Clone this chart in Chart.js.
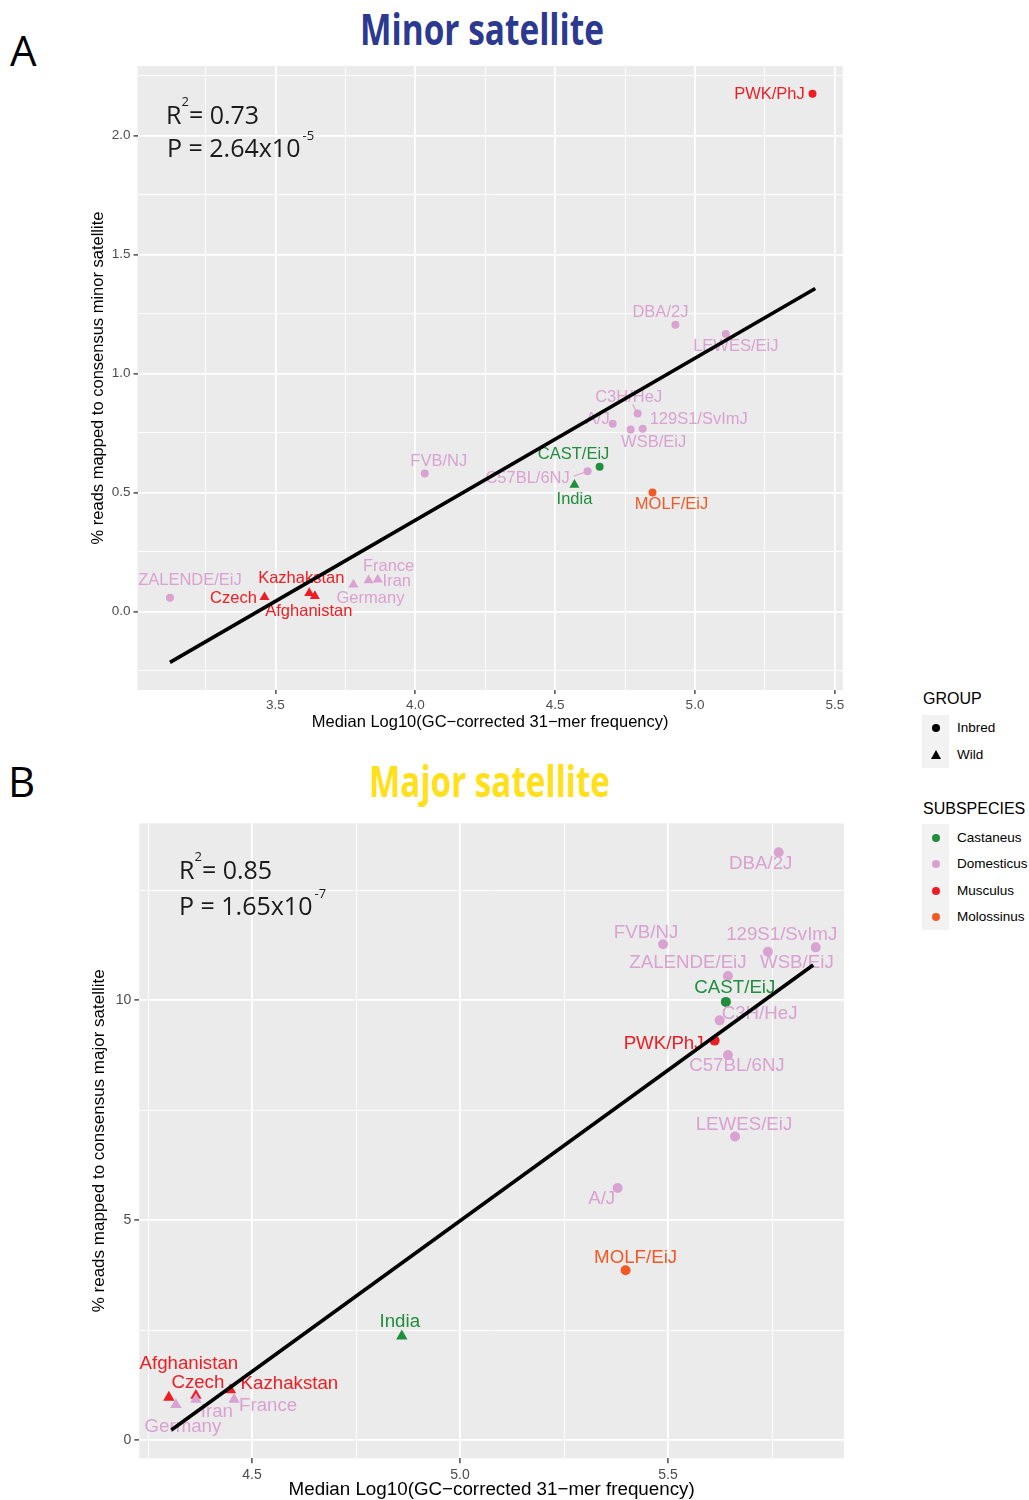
<!DOCTYPE html>
<html>
<head>
<meta charset="utf-8">
<title>Minor / Major satellite</title>
<script src="https://cdn.jsdelivr.net/npm/chart.js@4.4.0/dist/chart.umd.min.js"></script>
<style>
  body { margin: 0; background: #fff; width: 1029px; height: 1500px; position: relative; overflow: hidden;
         font-family: "Liberation Sans", Arial, sans-serif; }
  canvas { position: absolute; left: 0; }
  #chartA { top: 0; }
  #chartB { top: 760px; }
  .letter { position: absolute; font-family: "Open Sans", sans-serif; font-size: 42px; line-height: 1; color: #000; }
  .title { position: absolute; font-family: "Open Sans", sans-serif; font-weight: 700; font-size: 43px; line-height: 1;
           white-space: nowrap; transform-origin: left center; }
  .stat { position: absolute; font-family: "Open Sans", sans-serif; font-size: 25px; line-height: 1; color: #1a1a1a; white-space: nowrap; }
  .stat .sq { font-size: 13px; vertical-align: 18px; }
  .stat .ex { font-size: 13px; vertical-align: 17px; margin-left: 2px; }
  .lg-title { position: absolute; left: 923px; font-size: 16px; line-height: 1; color: #000; }
  .lg-box { position: absolute; left: 922px; width: 27px; background: #F2F2F2; }
  .lg-row { position: absolute; left: 957px; height: 26px; line-height: 26px; font-size: 13.5px; color: #000; white-space: nowrap; }
  .lg-dot { position: absolute; left: 932px; width: 8px; height: 8px; border-radius: 50%; }
  .lg-tri { position: absolute; left: 931px; width: 0; height: 0; border-left: 5px solid transparent;
            border-right: 5px solid transparent; border-bottom: 9px solid #000; }
</style>
</head>
<body>
<div class="letter" style="left:10px; top:29px;">A</div>
<div class="letter" style="left:8px; top:760px;">B</div>
<div class="title" id="titleA" style="top:7px; color:#2B3990;">Minor satellite</div>
<div class="title" id="titleB" style="top:759px; color:#FFE01A;">Major satellite</div>

<canvas id="chartA" width="860" height="740"></canvas>
<canvas id="chartB" width="860" height="740"></canvas>

<div class="stat" style="left:166px; top:95px;">R<span class="sq">2</span>= 0.73</div>
<div class="stat" style="left:167px; top:129px;">P = 2.64x10<span class="ex">-5</span></div>
<div class="stat" style="left:179px; top:850px;">R<span class="sq">2</span>= 0.85</div>
<div class="stat" style="left:179px; top:887px;">P = 1.65x10<span class="ex">-7</span></div>

<div id="legend"></div>

<script>
// ---- data ----
const strains = ['PWK/PhJ', 'DBA/2J', 'LEWES/EiJ', 'C3H/HeJ', 'A/J', '129S1/SvImJ', 'WSB/EiJ', 'FVB/NJ',
                 'CAST/EiJ', 'C57BL/6NJ', 'MOLF/EiJ', 'ZALENDE/EiJ', 'India', 'Czech', 'Kazhakstan',
                 'Afghanistan', 'Germany', 'France', 'Iran'];
const subspecies = ['Musculus', 'Domesticus', 'Domesticus', 'Domesticus', 'Domesticus', 'Domesticus', 'Domesticus',
                    'Domesticus', 'Castaneus', 'Domesticus', 'Molossinus', 'Domesticus', 'Castaneus', 'Musculus',
                    'Musculus', 'Musculus', 'Domesticus', 'Domesticus', 'Domesticus'];
const group = ['Inbred', 'Inbred', 'Inbred', 'Inbred', 'Inbred', 'Inbred', 'Inbred', 'Inbred', 'Inbred', 'Inbred',
               'Inbred', 'Inbred', 'Wild', 'Wild', 'Wild', 'Wild', 'Wild', 'Wild', 'Wild'];

// panel A: minor satellite
const minorX = [5.42, 4.93, 5.11, 4.795, 4.706, 4.813, 4.77, 4.034, 4.659, 4.616, 4.848, 3.123, 4.569,
                3.461, 3.621, 3.641, 3.779, 3.833, 3.866];
const minorY = [2.175, 1.205, 1.166, 0.832, 0.789, 0.768, 0.765, 0.58, 0.608, 0.589, 0.5, 0.058, 0.532,
                0.06, 0.077, 0.065, 0.113, 0.131, 0.134];
const minorFitX = [3.123, 5.43];
const minorFitY = [-0.214, 1.357];

// panel B: major satellite
const majorX = [5.612, 5.766, 5.661, 5.624, 5.379, 5.855, 5.74, 5.488, 5.639, 5.644, 5.398, 5.644, 4.86,
                4.365, 4.448, 4.30, 4.317, 4.457, 4.365];
const majorY = [9.08, 13.36, 6.9, 9.54, 5.73, 11.2, 11.1, 11.27, 9.96, 8.75, 3.86, 10.55, 2.36,
                1.01, 1.14, 0.97, 0.80, 0.92, 0.92];
const majorFitX = [4.306, 5.849];
const majorFitY = [0.227, 10.80];

// tick labels
const minorXTicks = [3.5, 4.0, 4.5, 5.0, 5.5];
const minorYTicks = [0.0, 0.5, 1.0, 1.5, 2.0];
const majorXTicks = [4.5, 5.0, 5.5];
const majorYTicks = [0, 5, 10];

const groupNames = ['Inbred', 'Wild'];
const subspeciesNames = ['Castaneus', 'Domesticus', 'Musculus', 'Molossinus'];

// ---- styles / layout ----
const subspeciesColors = {
  Castaneus: '#1F8E3D',
  Domesticus: '#D9A2D1',
  Musculus: '#EE1D23',
  Molossinus: '#F15A24',
};

// label offsets (px) from each point, same order as strains
const minorLabelOffset = [[-43, 1], [-15, -12], [10, 12], [-9, -16], [-15, -4], [56, -9], [23, 13], [14, -12],
  [-26, -12], [-60, 7], [19, 12], [20, -17], [0, 15], [-31, 1], [-8, -15], [-6, 15], [17, 14], [20, -14], [19, 2]];
const majorLabelOffset = [[-51, 3], [-18, 12], [9, -12], [40, -7], [-16, 11], [-34, -12], [29, 11], [-17, -11],
  [9, -14], [9, 11], [10, -12], [-40, -13], [-2, -14], [2, -13], [59, -6], [20, -33], [7, 22], [34, 6], [21, 12]];
const minorLinks = strains.map((s, i) => (i === 3 ? [-5, -9] : i === 9 ? [-14, 5] : null));
const majorLinks = strains.map(() => null);

const X_TITLE = 'Median Log10(GC\u2212corrected 31\u2212mer frequency)';

const panels = [
  {
    id: 'chartA', xs: minorX, ys: minorY, fitX: minorFitX, fitY: minorFitY,
    xTicks: minorXTicks, yTicks: minorYTicks, xRange: [3.007, 5.528], yRange: [-0.33, 2.292],
    xDec: 1, yDec: 1, yTitle: '% reads mapped to consensus minor satellite',
    tickFont: 13.5, xTitleFont: 16.5, yTitleFont: 16.5, labelFont: 16.5,
    pad: { left: 89.75, top: 66, right: 17.3, bottom: 9.75 }, yAxisW: 47.75, xAxisH: 40.25,
    dotR: 4, triR: 5.8, offsets: minorLabelOffset, links: minorLinks, tickLen: 4,
  },
  {
    id: 'chartB', xs: majorX, ys: majorY, fitX: majorFitX, fitY: majorFitY,
    xTicks: majorXTicks, yTicks: majorYTicks, xRange: [4.229, 5.923], yRange: [-0.416, 14.02],
    xDec: 1, yDec: 0, yTitle: '% reads mapped to consensus major satellite',
    tickFont: 14, xTitleFont: 18.8, yTitleFont: 17, labelFont: 18.7,
    pad: { left: 90.5, top: 63.3, right: 16, bottom: 0.6 }, yAxisW: 48.8, xAxisH: 41.1,
    dotR: 5, triR: 6.6, offsets: majorLabelOffset, links: majorLinks, tickLen: 5,
  },
];

// minor gridlines halfway between the labelled ticks, kept inside the range
function minorLines(major, range) {
  const step = major[1] - major[0];
  const out = [major[0] - step / 2];
  major.forEach(v => out.push(v + step / 2));
  return out.filter(v => v > range[0] && v < range[1]);
}

function axisOptions(major, range, dec, tickFont, title, titleFont, size, horizontal, tickLen) {
  const all = major.concat(minorLines(major, range)).sort((a, b) => a - b);
  const isMajor = v => major.some(m => Math.abs(m - v) < 1e-9);
  return {
    type: 'linear',
    min: range[0],
    max: range[1],
    afterBuildTicks: axis => { axis.ticks = all.map(v => ({ value: v })); },
    afterFit: axis => { if (horizontal) axis.height = size; else axis.width = size; },
    border: { display: false },
    grid: {
      color: '#FFFFFF',
      lineWidth: ctx => (isMajor(ctx.tick.value) ? 1.8 : 0.9),
      tickColor: ctx => (isMajor(ctx.tick.value) ? '#333333' : 'rgba(0,0,0,0)'),
      tickWidth: 1.3,
      tickLength: tickLen,
    },
    ticks: {
      autoSkip: false,
      maxRotation: 0,
      padding: 3,
      color: '#4D4D4D',
      font: { family: 'Liberation Sans', size: tickFont },
      callback: v => (isMajor(v) ? v.toFixed(dec) : ''),
    },
    title: {
      display: true,
      text: title,
      color: '#000000',
      padding: 0,
      font: { family: 'Liberation Sans', size: titleFont, lineHeight: 1 },
    },
  };
}

const panelBg = {
  id: 'panelBg',
  beforeDraw(chart) {
    const a = chart.chartArea;
    const c = chart.ctx;
    c.save();
    c.fillStyle = '#EBEBEB';
    c.fillRect(a.left, a.top, a.right - a.left, a.bottom - a.top);
    c.restore();
  },
};

function makeChart(p) {
  const pts = strains.map((s, i) => ({ x: p.xs[i], y: p.ys[i] }));
  const fit = p.fitX.map((x, i) => ({ x: x, y: p.fitY[i] }));

  // strain names, drawn just before the fit line so the line sits on top
  const pointLabels = {
    id: 'pointLabels',
    beforeDatasetDraw(chart, args) {
      if (args.index !== 0) return;
      const meta = chart.getDatasetMeta(1);
      const ctx = chart.ctx;
      ctx.save();
      ctx.textAlign = 'center';
      ctx.textBaseline = 'middle';
      ctx.font = p.labelFont + 'px "Liberation Sans"';
      meta.data.forEach((el, i) => {
        const col = subspeciesColors[subspecies[i]];
        const link = p.links[i];
        if (link) {
          ctx.strokeStyle = col;
          ctx.lineWidth = 1.2;
          ctx.beginPath();
          ctx.moveTo(el.x, el.y);
          ctx.lineTo(el.x + link[0], el.y + link[1]);
          ctx.stroke();
        }
        ctx.fillStyle = col;
        ctx.fillText(strains[i], el.x + p.offsets[i][0], el.y + p.offsets[i][1]);
      });
      ctx.restore();
    },
  };

  return new Chart(document.getElementById(p.id), {
    type: 'scatter',
    data: {
      datasets: [
        {
          label: 'fit',
          data: fit,
          showLine: true,
          borderColor: '#000000',
          borderWidth: 3.6,
          borderCapStyle: 'butt',
          pointRadius: 0,
          pointHoverRadius: 0,
        },
        {
          label: 'strains',
          data: pts,
          pointStyle: ctx => (group[ctx.dataIndex] === 'Wild' ? 'triangle' : 'circle'),
          pointRadius: ctx => (group[ctx.dataIndex] === 'Wild' ? p.triR : p.dotR),
          backgroundColor: ctx => subspeciesColors[subspecies[ctx.dataIndex]],
          borderWidth: 0,
        },
      ],
    },
    options: {
      responsive: false,
      animation: false,
      events: [],
      layout: { padding: p.pad },
      plugins: { legend: { display: false }, tooltip: { enabled: false } },
      scales: {
        x: axisOptions(p.xTicks, p.xRange, p.xDec, p.tickFont, X_TITLE, p.xTitleFont, p.xAxisH, true, p.tickLen),
        y: axisOptions(p.yTicks, p.yRange, p.yDec, p.tickFont, p.yTitle, p.yTitleFont, p.yAxisW, false, p.tickLen),
      },
    },
    plugins: [panelBg, pointLabels],
  });
}

panels.forEach(makeChart);

// ---- legend ----
function buildLegend() {
  const lg = document.getElementById('legend');
  let html = '';
  html += '<div class="lg-title" style="top:691px;">GROUP</div>';
  html += '<div class="lg-box" style="top:715px; height:53px;"></div>';
  groupNames.forEach((g, i) => {
    const cy = 728 + i * 27;
    html += g === 'Wild'
      ? `<div class="lg-tri" style="top:${cy - 5}px;"></div>`
      : `<div class="lg-dot" style="top:${cy - 4}px; background:#000;"></div>`;
    html += `<div class="lg-row" style="top:${cy - 13}px;">${g}</div>`;
  });
  html += '<div class="lg-title" style="top:801px;">SUBSPECIES</div>';
  html += '<div class="lg-box" style="top:824px; height:106px;"></div>';
  subspeciesNames.forEach((s, i) => {
    const cy = 837.5 + i * 26.5;
    html += `<div class="lg-dot" style="top:${cy - 4}px; background:${subspeciesColors[s]};"></div>`;
    html += `<div class="lg-row" style="top:${cy - 13}px;">${s}</div>`;
  });
  lg.innerHTML = html;
}
buildLegend();

// squeeze the bold titles to the width they have in the figure
function fitTitle(id, cx, w) {
  const el = document.getElementById(id);
  const k = w / el.getBoundingClientRect().width;
  el.style.left = (cx - w / 2) + 'px';
  el.style.transform = 'scaleX(' + k + ')';
}
fitTitle('titleA', 482, 244);
fitTitle('titleB', 489.5, 241);
</script>
</body>
</html>
